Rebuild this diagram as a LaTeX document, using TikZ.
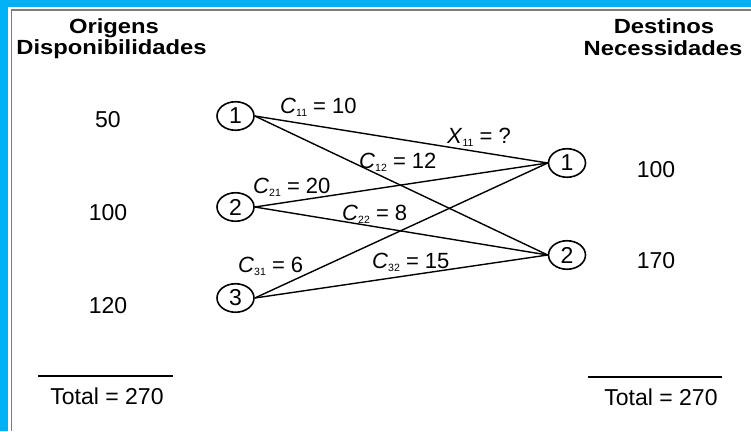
\documentclass[tikz,border=0pt]{standalone}
\usepackage{fontspec}
\setmainfont{Liberation Sans}
\usetikzlibrary{shapes.geometric}
\definecolor{frameblue}{RGB}{0,178,245}
\definecolor{framegray}{RGB}{125,125,125}
\newcommand\mylab[3]{\textit{#1}\raisebox{-3.5pt}{\fontsize{10.5}{10.5}\selectfont #2} = #3}
\begin{document}
\begin{tikzpicture}[x=1pt,y=-1pt,
 site/.style={ellipse,draw,line width=1.6pt,minimum width=37pt,minimum height=28.5pt,inner sep=0pt,font=\fontsize{23}{23}\selectfont},
 title/.style={anchor=base,inner sep=0pt,font=\bfseries\fontsize{20.5}{20.5}\selectfont},
 num/.style={anchor=base,inner sep=0pt,font=\fontsize{23}{23}\selectfont},
 cost/.style={anchor=base west,inner sep=0pt,font=\fontsize{22}{22}\selectfont},
 link/.style={line width=1.4pt},
 rule/.style={line width=1.4pt}]
\useasboundingbox (0,0) rectangle (751,431);
\fill[white] (0,0) rectangle (751,431);
\fill[frameblue] (0,0) rectangle (751,7);
\fill[frameblue] (0,0) rectangle (7.5,431);
\draw[framegray,line width=1.5pt] (11.3,431) -- (11.3,9.8) -- (751,9.8);
% titles
\node[title] (t1) at (114,33) {\scalebox{1.16}[1]{Origens}};
\node[title] (t2) at (111.5,54) {\scalebox{1.16}[1]{Disponibilidades}};
\node[title] (t3) at (664,33) {\scalebox{1.16}[1]{Destinos}};
\node[title] (t4) at (663,55) {\scalebox{1.16}[1]{Necessidades}};
% supplies / demands
\node[num] (s1) at (108,127) {50};
\node[num] (s2) at (108,220) {100};
\node[num] (s3) at (108,313) {120};
\node[num] (d1) at (656,177) {100};
\node[num] (d2) at (656,268) {170};
% totals
\coordinate (la) at (38,376);
\coordinate (lb) at (173,376);
\coordinate (ra) at (588,377);
\coordinate (rb) at (722,377);
\draw[rule] (la) -- (lb);
\draw[rule] (ra) -- (rb);
\node[num] (tl) at (107,404) {Total = 270};
\node[num] (tr) at (661,405) {Total = 270};
% sites
\node[site] (L1) at (235.5,116) {1};
\node[site] (L2) at (235.5,207) {2};
\node[site] (L3) at (235.5,298) {3};
\node[site] (R1) at (567,163) {1};
\node[site] (R2) at (567,255) {2};
% links
\draw[link] (L1.east) -- (R1.west);
\draw[link] (L1.east) -- (R2.west);
\draw[link] (L2.east) -- (R1.west);
\draw[link] (L2.east) -- (R2.west);
\draw[link] (L3.east) -- (R1.west);
\draw[link] (L3.east) -- (R2.west);
% cost labels
\node[cost] (c11) at (280,113) {\mylab{C}{11}{10}};
\node[cost] (x11) at (447,143) {\mylab{X}{11}{?}};
\node[cost] (c12) at (359,168) {\mylab{C}{12}{12}};
\node[cost] (c21) at (253,193) {\mylab{C}{21}{20}};
\node[cost] (c22) at (342,220) {\mylab{C}{22}{8}};
\node[cost] (c31) at (238,272) {\mylab{C}{31}{6}};
\node[cost] (c32) at (372,268) {\mylab{C}{32}{15}};
\end{tikzpicture}
\end{document}
